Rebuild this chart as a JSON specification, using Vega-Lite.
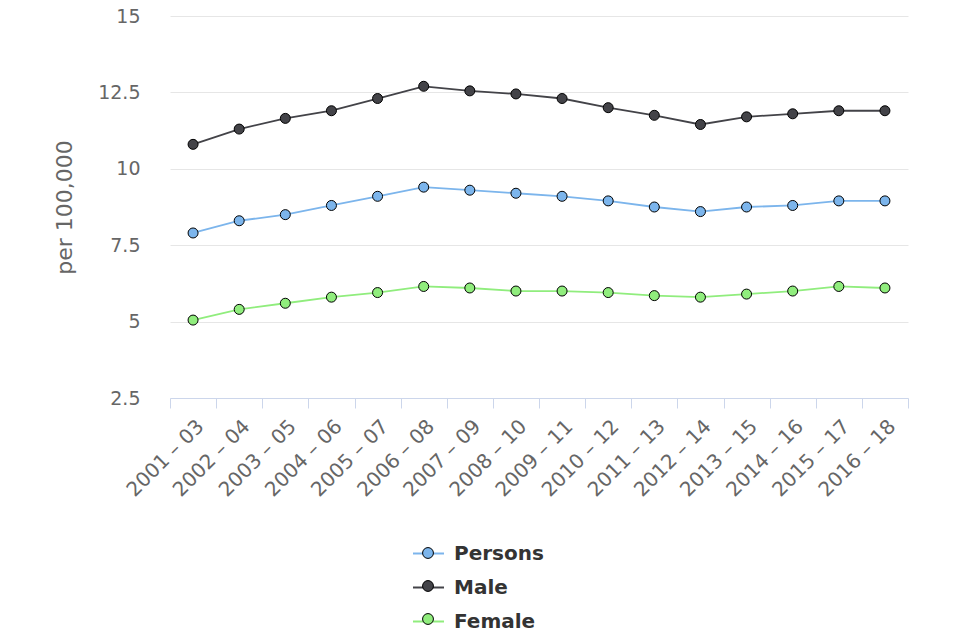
{
  "$schema": "https://vega.github.io/schema/vega-lite/v6.json",
  "width": 738,
  "height": 382,
  "autosize": {"type": "none"},
  "padding": {"left": 170, "top": 16, "right": 52, "bottom": 242},
  "config": {"font": "DejaVu Sans", "view": {"stroke": null}},
  "data": {"values": [
    {"period": "2001 – 03", "series": "Persons", "value": 7.9},
    {"period": "2002 – 04", "series": "Persons", "value": 8.3},
    {"period": "2003 – 05", "series": "Persons", "value": 8.5},
    {"period": "2004 – 06", "series": "Persons", "value": 8.8},
    {"period": "2005 – 07", "series": "Persons", "value": 9.1},
    {"period": "2006 – 08", "series": "Persons", "value": 9.4},
    {"period": "2007 – 09", "series": "Persons", "value": 9.3},
    {"period": "2008 – 10", "series": "Persons", "value": 9.2},
    {"period": "2009 – 11", "series": "Persons", "value": 9.1},
    {"period": "2010 – 12", "series": "Persons", "value": 8.95},
    {"period": "2011 – 13", "series": "Persons", "value": 8.75},
    {"period": "2012 – 14", "series": "Persons", "value": 8.6},
    {"period": "2013 – 15", "series": "Persons", "value": 8.75},
    {"period": "2014 – 16", "series": "Persons", "value": 8.8},
    {"period": "2015 – 17", "series": "Persons", "value": 8.95},
    {"period": "2016 – 18", "series": "Persons", "value": 8.95},
    {"period": "2001 – 03", "series": "Male", "value": 10.8},
    {"period": "2002 – 04", "series": "Male", "value": 11.3},
    {"period": "2003 – 05", "series": "Male", "value": 11.65},
    {"period": "2004 – 06", "series": "Male", "value": 11.9},
    {"period": "2005 – 07", "series": "Male", "value": 12.3},
    {"period": "2006 – 08", "series": "Male", "value": 12.7},
    {"period": "2007 – 09", "series": "Male", "value": 12.55},
    {"period": "2008 – 10", "series": "Male", "value": 12.45},
    {"period": "2009 – 11", "series": "Male", "value": 12.3},
    {"period": "2010 – 12", "series": "Male", "value": 12.0},
    {"period": "2011 – 13", "series": "Male", "value": 11.75},
    {"period": "2012 – 14", "series": "Male", "value": 11.45},
    {"period": "2013 – 15", "series": "Male", "value": 11.7},
    {"period": "2014 – 16", "series": "Male", "value": 11.8},
    {"period": "2015 – 17", "series": "Male", "value": 11.9},
    {"period": "2016 – 18", "series": "Male", "value": 11.9},
    {"period": "2001 – 03", "series": "Female", "value": 5.05},
    {"period": "2002 – 04", "series": "Female", "value": 5.4},
    {"period": "2003 – 05", "series": "Female", "value": 5.6},
    {"period": "2004 – 06", "series": "Female", "value": 5.8},
    {"period": "2005 – 07", "series": "Female", "value": 5.95},
    {"period": "2006 – 08", "series": "Female", "value": 6.15},
    {"period": "2007 – 09", "series": "Female", "value": 6.1},
    {"period": "2008 – 10", "series": "Female", "value": 6.0},
    {"period": "2009 – 11", "series": "Female", "value": 6.0},
    {"period": "2010 – 12", "series": "Female", "value": 5.95},
    {"period": "2011 – 13", "series": "Female", "value": 5.85},
    {"period": "2012 – 14", "series": "Female", "value": 5.8},
    {"period": "2013 – 15", "series": "Female", "value": 5.9},
    {"period": "2014 – 16", "series": "Female", "value": 6.0},
    {"period": "2015 – 17", "series": "Female", "value": 6.15},
    {"period": "2016 – 18", "series": "Female", "value": 6.1}
  ]},
  "encoding": {
    "x": {
      "field": "period", "type": "ordinal", "sort": null, "bandPosition": 0.5,
      "scale": {"type": "band", "paddingInner": 0, "paddingOuter": 0},
      "axis": {
        "title": null, "grid": false, "zindex": 1,
        "domainColor": "#ccd6eb", "tickColor": "#ccd6eb", "tickSize": 10, "tickBand": "extent",
        "labelAngle": -45, "labelFontSize": 20, "labelColor": "#666666", "labelPadding": 8,
        "labelDx": -4, "labelDy": 3
      }
    },
    "y": {
      "field": "value", "type": "quantitative",
      "scale": {"domain": [2.5, 15], "nice": false, "zero": false},
      "axis": {
        "values": [2.5, 5, 7.5, 10, 12.5, 15], "format": ".3~g",
        "grid": true, "gridColor": "#e6e6e6", "domain": false, "ticks": false,
        "labelFontSize": 19, "labelColor": "#666666", "labelPadding": 30,
        "title": "per 100,000", "titleFontSize": 22, "titleColor": "#666666",
        "titleFontWeight": "normal", "titlePadding": 21
      }
    }
  },
  "layer": [
    {
      "mark": {"type": "line", "strokeWidth": 1.8},
      "encoding": {
        "stroke": {
          "field": "series", "type": "nominal",
          "scale": {"domain": ["Persons", "Male", "Female"], "range": ["#7cb5ec", "#434348", "#90ed7d"]},
          "legend": {
            "title": null, "orient": "none", "legendX": 242, "legendY": 521, "direction": "vertical",
            "symbolType": "stroke", "symbolSize": 961, "symbolStrokeWidth": 2, "symbolOpacity": 1,
            "labelFontSize": 20, "labelFontWeight": "bold", "labelColor": "#333333",
            "labelOffset": 9, "rowPadding": 7
          }
        }
      }
    },
    {
      "mark": {"type": "point", "filled": true, "size": 100, "stroke": "#000000", "strokeWidth": 1, "opacity": 1},
      "encoding": {
        "fill": {
          "field": "series", "type": "nominal", "sort": ["Persons", "Male", "Female"],
          "scale": {"range": ["#7cb5ec", "#434348", "#90ed7d"]},
          "legend": {
            "title": null, "orient": "none", "legendX": 242, "legendY": 521, "direction": "vertical",
            "symbolType": "M-0.35,0A0.35,0.35,0,1,1,0.35,0A0.35,0.35,0,1,1,-0.35,0Z", "symbolSize": 961,
            "symbolStrokeColor": "#000000", "symbolStrokeWidth": 1, "symbolOpacity": 1,
            "labelFontSize": 20, "labelFontWeight": "bold", "labelColor": "#333333", "labelExpr": "''",
            "labelOffset": 9, "rowPadding": 7
          }
        }
      }
    }
  ]
}
